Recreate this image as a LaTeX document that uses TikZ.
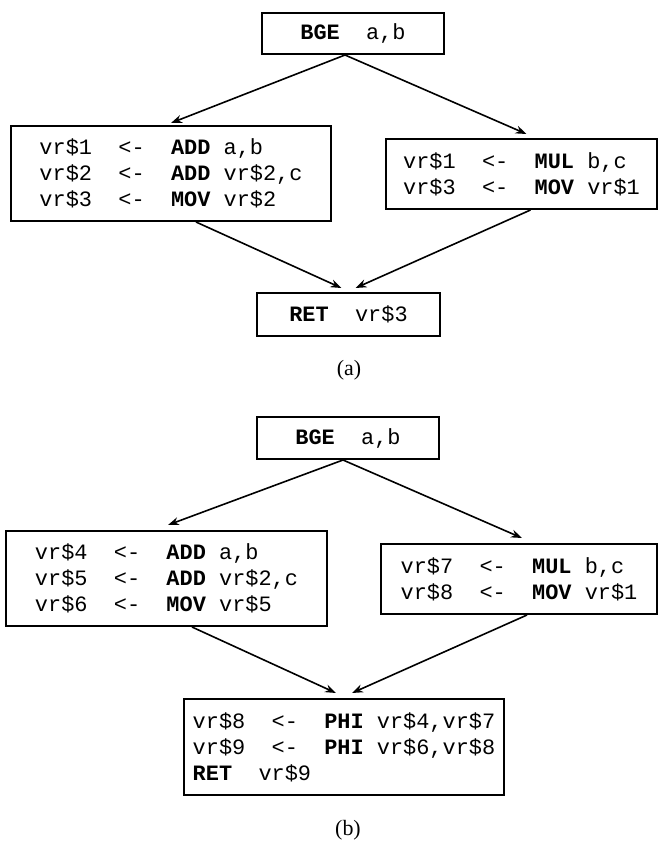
\documentclass[tikz,border=0pt]{standalone}
\usepackage{fontspec}
\setmainfont{Liberation Serif}
\setmonofont{Liberation Mono}
\usetikzlibrary{arrows,arrows.meta,shapes}
\newcommand{\op}[1]{\textbf{#1}}
\tikzset{
  blk/.style={draw, line width=1bp, inner sep=0pt, align=left,
    font=\ttfamily\fontsize{11}{13}\selectfont},
  sublabel/.style={font=\fontsize{11}{13}\selectfont}
}
\begin{document}
\begin{tikzpicture}[x=0.5bp,y=-0.5bp,->,>={Stealth[length=5.5bp,width=4bp]},line width=0.8bp]
\useasboundingbox (0,0) rectangle (658,842);
\node[blk,minimum width=91bp,minimum height=20.5bp](bgeA) at (353,33.5) {\op{BGE}~~a,b};
\node[blk,minimum width=160bp,minimum height=47.5bp](leftA) at (171,173.5) {vr\$1~~<-~~\op{ADD} a,b\\vr\$2~~<-~~\op{ADD} vr\$2,c\\vr\$3~~<-~~\op{MOV} vr\$2};
\node[blk,minimum width=135.5bp,minimum height=35bp](rightA) at (521.5,174) {vr\$1~~<-~~\op{MUL} b,c\\vr\$3~~<-~~\op{MOV} vr\$1};
\node[blk,minimum width=91.5bp,minimum height=21.5bp](retA) at (348.5,314.5) {\op{RET}~~vr\$3};
\node[sublabel](labA) at (349,370) {(a)};
\draw([xshift=-4bp]bgeA.south) to ([yshift=1bp]leftA.north);
\draw([xshift=-4bp]bgeA.south) to ([xshift=2.5bp,yshift=2bp]rightA.north);
\draw([xshift=12.5bp]leftA.south) to ([xshift=-3.5bp,yshift=2bp]retA.north);
\draw([xshift=4.5bp]rightA.south) to ([xshift=3.5bp,yshift=2bp]retA.north);
\node[blk,minimum width=91bp,minimum height=21bp](bgeB) at (348,438) {\op{BGE}~~a,b};
\node[blk,minimum width=160.5bp,minimum height=47.5bp](leftB) at (166.5,578.5) {vr\$4~~<-~~\op{ADD} a,b\\vr\$5~~<-~~\op{ADD} vr\$2,c\\vr\$6~~<-~~\op{MOV} vr\$5};
\node[blk,minimum width=138bp,minimum height=35bp](rightB) at (519,579) {vr\$7~~<-~~\op{MUL} b,c\\vr\$8~~<-~~\op{MOV} vr\$1};
\node[blk,minimum width=160bp,minimum height=48bp](phiB) at (344,747) {vr\$8~~<-~~\op{PHI} vr\$4,vr\$7\\vr\$9~~<-~~\op{PHI} vr\$6,vr\$8\\\op{RET}~~vr\$9};
\node[sublabel](labB) at (348,830) {(b)};
\draw([xshift=-2.5bp]bgeB.south) to ([xshift=0.75bp,yshift=2.5bp]leftB.north);
\draw([xshift=-2.5bp]bgeB.south) to ([xshift=1.5bp,yshift=2.5bp]rightB.north);
\draw([xshift=12.75bp]leftB.south) to ([xshift=-4bp,yshift=2.5bp]phiB.north);
\draw([xshift=4bp]rightB.south) to ([xshift=4bp,yshift=2.5bp]phiB.north);
\end{tikzpicture}
\end{document}
